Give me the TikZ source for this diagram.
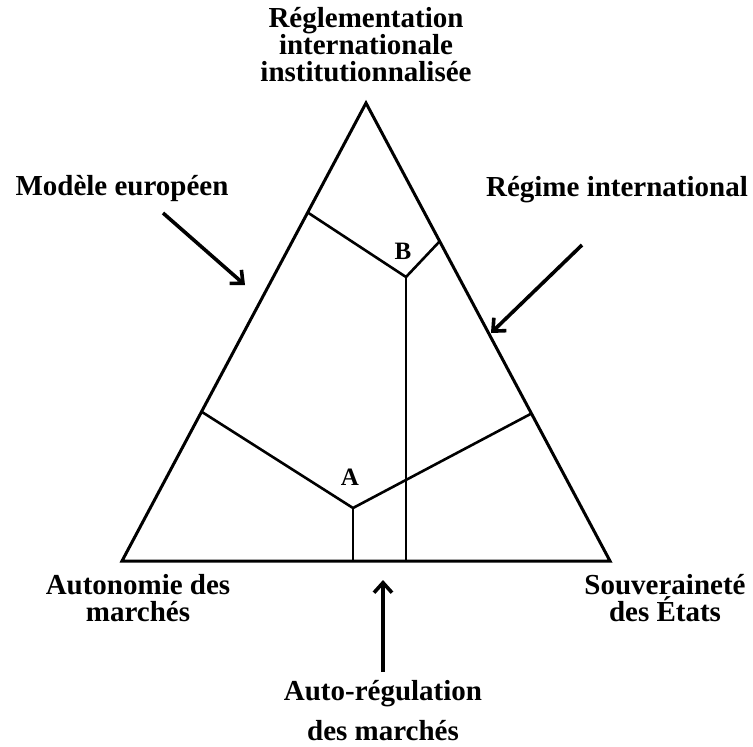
\documentclass[tikz,border=0pt]{standalone}
\usepackage{fontspec}
\setmainfont{Liberation Serif}
\usetikzlibrary{arrows.meta,calc}

\tikzset{
  lbl/.style={font=\fontsize{29}{27}\selectfont\bfseries, align=center, inner sep=0pt},
  pt/.style={font=\fontsize{25}{25}\selectfont\bfseries, inner sep=0pt},
  edge/.style={line width=3pt},
  wall/.style={line width=2.6pt},
  pointer/.style={line width=3.6pt, -{Straight Barb[length=10pt,width=18pt,line width=3.6pt]}}
}

\begin{document}
\begin{tikzpicture}[x=1pt,y=-1pt]
\useasboundingbox (0,0) rectangle (753,747);
% triangle
\coordinate (L) at (122,561);
\coordinate (R) at (610,561);
\coordinate (T) at (366,103);
\draw[edge] (L) -- (R) -- (T) -- cycle;
% inner regions
\coordinate (A) at (353,508);
\coordinate (B) at (406,277);
\coordinate (la) at ($(L)!0.326!(T)$);
\coordinate (ra) at ($(R)!0.322!(T)$);
\coordinate (lb) at ($(L)!0.761!(T)$);
\coordinate (rb) at ($(R)!0.698!(T)$);
\draw[wall] (la) -- (A) -- (ra);
\draw[wall] (A) -- (A |- L);
\draw[wall] (lb) -- (B) -- (rb);
\draw[wall] (B) -- (B |- L);
\node[pt] (labA) at (350,477) {A};
\node[pt] (labB) at (403,251) {B};
% corner labels
\node[lbl] (top) at (366,45) {Réglementation\\internationale\\institutionnalisée};
\node[lbl] (auto) at (138,598) {Autonomie des\\marchés};
\node[lbl] (souv) at (665,598) {Souveraineté\\des États};
% pointers
\node[lbl] (europe) at (122,189) {Modèle européen};
\node[lbl] (regime) at (617,190) {Régime international};
\node[lbl, font=\fontsize{29}{40}\selectfont\bfseries] (autoreg) at (383,711) {Auto-régulation\\des marchés};
\coordinate (e1) at (163,213);
\coordinate (e2) at (245,285);
\coordinate (r1) at (582,245);
\coordinate (r2) at (491,333);
\coordinate (u1) at (383,672);
\coordinate (u2) at (383,580);
\draw[pointer] (e1) -- (e2);
\draw[pointer] (r1) -- (r2);
\draw[pointer] (u1) -- (u2);
\end{tikzpicture}
\end{document}
